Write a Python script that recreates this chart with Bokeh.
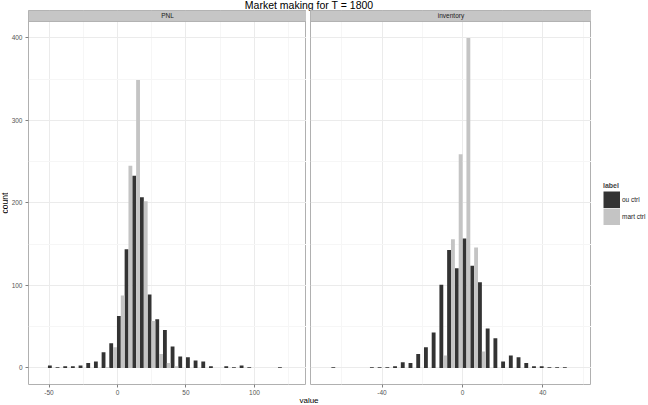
import numpy as np
from bokeh.plotting import figure
from bokeh.models import Range1d, FixedTicker, Legend, LegendItem, Div
from bokeh.layouts import column, row
from bokeh.core.properties import value
from bokeh.embed import file_html
from bokeh.resources import INLINE

# ---------------- data ----------------
TITLE = "Market making for T = 1800"
PANELS = ["PNL", "inventory"]
SERIES = ["ou ctrl", "mart ctrl"]
LEGEND_TITLE = "label"
X_LABEL = "value"
Y_LABEL = "count"

# PNL histogram (31 bins)
pnl_bin_start = -48.0
pnl_bin_width = 5.6
pnl_ou_ctrl = [3, 1, 2, 2, 3, 6, 8, 19, 30, 63, 144, 233, 207, 89, 59, 46,
               26, 14, 13, 9, 8, 2, 0, 2, 1, 3, 1, 0, 0, 0, 1]
pnl_mart_ctrl = [0, 0, 0, 0, 0, 0, 0, 1, 25, 88, 245, 349, 202, 57, 17, 6,
                 2, 0, 0, 0, 0, 0, 0, 0, 0, 0, 0, 0, 0, 0, 0]

# inventory histogram (31 bins)
inv_bin_start = -63.3
inv_bin_width = 3.84
inv_ou_ctrl = [1, 0, 0, 0, 0, 1, 1, 1, 2, 7, 6, 17, 25, 43, 101, 143,
               121, 157, 124, 104, 48, 36, 8, 15, 13, 6, 2, 2, 1, 1, 1]
inv_mart_ctrl = [0, 0, 0, 0, 0, 0, 0, 0, 0, 0, 0, 0, 0, 0, 15, 156,
                 259, 400, 146, 20, 0, 0, 0, 0, 0, 0, 0, 0, 0, 0, 0]

y_ticks = [0, 100, 200, 300, 400]
y_tick_labels = ["0", "100", "200", "300", "400"]
y_minor = [50, 150, 250, 350]
pnl_x_ticks = [-50, 0, 50, 100]
pnl_x_tick_labels = ["-50", "0", "50", "100"]
pnl_x_minor = [-25, 25, 75, 125]
inv_x_ticks = [-40, 0, 40]
inv_x_tick_labels = ["-40", "0", "40"]
inv_x_minor = [-60, -20, 20, 60]

pnl_x_range = (-65.0, 138.0)
inv_x_range = (-75.6, 64.2)
y_data_range = (-20, 420)
strip_extent = 13.3   # count units occupied by the facet strip above the panel
Y_TOP = y_data_range[1] + strip_extent

# ---------------- style ----------------
FONT = "Liberation Sans"
DARK = "#333333"
LIGHT = "#C4C4C4"
STRIP = "#C6C6C6"
BORDER = "#B0B0B0"
GRID_MAJOR = "#EBEBEB"
GRID_MINOR = "#F6F6F6"
TICK_TEXT = "#555555"

W_COUNT = 8
W_L = 20 + 278     # y-axis border + frame
GAP = 4
W_R = GAP + 281
W_LEG = 648 - W_COUNT - W_L - W_R
H_TITLE, H_PANEL, H_XLAB = 10, 387, 8
KEY = 17


def blank_fig(width, y_range):
    f = figure(width=width, height=H_PANEL, x_range=Range1d(0, 1), y_range=y_range,
               x_axis_type=None, y_axis_type=None, output_backend="svg",
               toolbar_location=None, min_border_left=0, min_border_right=0,
               min_border_top=0, min_border_bottom=0)
    f.outline_line_color = None
    f.background_fill_color = "white"
    f.border_fill_color = "white"
    return f


def make_panel(name, xr, ticks, labels, minor, start, bw, ou, mart, first):
    n = len(ou)
    centers = start + bw * np.arange(n)
    p = figure(width=W_L if first else W_R, height=H_PANEL,
               x_range=Range1d(*xr), y_range=Range1d(y_data_range[0], Y_TOP),
               output_backend="svg", toolbar_location=None,
               min_border_left=16 if first else GAP,
               min_border_right=0,
               min_border_top=0, min_border_bottom=12)
    p.outline_line_color = BORDER
    p.outline_line_width = 1
    p.background_fill_color = "white"
    p.border_fill_color = "white"

    p.vbar(x=centers - bw / 4, top=ou, bottom=0, width=bw / 2,
           fill_color=DARK, line_color=None)
    p.vbar(x=centers + bw / 4, top=mart, bottom=0, width=bw / 2,
           fill_color=LIGHT, line_color=None)

    # facet strip
    p.quad(left=[xr[0]], right=[xr[1]], bottom=[y_data_range[1]], top=[Y_TOP],
           fill_color=STRIP, line_color=BORDER, line_width=1)
    p.text(x=[(xr[0] + xr[1]) / 2], y=[(y_data_range[1] + Y_TOP) / 2], text=[name],
           text_align="center", text_baseline="middle",
           text_font=value(FONT), text_font_size="6.5px", text_color="#1A1A1A")

    xt = FixedTicker(ticks=ticks, minor_ticks=minor)
    yt = FixedTicker(ticks=y_ticks, minor_ticks=y_minor)
    p.xaxis.ticker = xt
    p.yaxis.ticker = yt
    p.xgrid.ticker = xt
    p.ygrid.ticker = yt
    for g in (p.xgrid, p.ygrid):
        g.grid_line_color = GRID_MAJOR
        g.grid_line_width = 1
        g.minor_grid_line_color = GRID_MINOR
        g.minor_grid_line_width = 1

    ax = p.xaxis[0]
    ax.major_label_overrides = dict(zip(ticks, labels))
    ax.axis_line_color = None
    ax.major_tick_out = 3
    ax.major_tick_in = 0
    ax.major_tick_line_color = "#808080"
    ax.minor_tick_line_color = None
    ax.major_label_standoff = 1
    ax.major_label_text_font = FONT
    ax.major_label_text_font_size = "6.5px"
    ax.major_label_text_color = TICK_TEXT

    ay = p.yaxis[0]
    if first:
        ay.major_label_overrides = dict(zip(y_ticks, y_tick_labels))
        ay.axis_line_color = None
        ay.major_tick_out = 3
        ay.major_tick_in = 0
        ay.major_tick_line_color = "#808080"
        ay.minor_tick_line_color = None
        ay.major_label_standoff = 2
        ay.major_label_text_font = FONT
        ay.major_label_text_font_size = "6.5px"
        ay.major_label_text_color = TICK_TEXT
    else:
        ay.visible = False
    return p


p_left = make_panel(PANELS[0], pnl_x_range, pnl_x_ticks, pnl_x_tick_labels, pnl_x_minor,
                    pnl_bin_start, pnl_bin_width, pnl_ou_ctrl, pnl_mart_ctrl, True)
p_right = make_panel(PANELS[1], inv_x_range, inv_x_ticks, inv_x_tick_labels,
                     inv_x_minor, inv_bin_start, inv_bin_width,
                     inv_ou_ctrl, inv_mart_ctrl, False)

# y-axis title, in the panel's own count scale
count_fig = blank_fig(W_COUNT, Range1d(y_data_range[0], Y_TOP))
count_fig.text(x=[0.5], y=[float(np.mean(y_ticks))], text=[Y_LABEL], angle=np.pi / 2,
               text_align="center", text_baseline="middle",
               text_font=value(FONT), text_font_size="8.5px", text_color="#000000")

# legend panel: keys are drawn by Bokeh's legend from zero-length thick lines
leg_fig = blank_fig(W_LEG, Range1d(0, 1))
k_ou = leg_fig.line(x=[0.5, 0.5], y=[0, 0], line_width=KEY, line_color=DARK, line_cap="butt")
k_mart = leg_fig.line(x=[0.5, 0.5], y=[0, 0], line_width=KEY, line_color=LIGHT, line_cap="butt")
legend = Legend(items=[LegendItem(label=SERIES[0], renderers=[k_ou]),
                       LegendItem(label=SERIES[1], renderers=[k_mart])],
                title=LEGEND_TITLE, location=(12, 159), orientation="vertical",
                margin=0, padding=0, spacing=0, glyph_width=KEY, glyph_height=KEY,
                label_standoff=2, label_height=KEY,
                label_text_font=FONT, label_text_font_size="6.5px",
                label_text_color="#1A1A1A",
                title_text_font=FONT, title_text_font_size="7px",
                title_text_font_style="bold", title_standoff=2,
                border_line_color=None, background_fill_alpha=0)
leg_fig.add_layout(legend)

title_div = Div(text=TITLE, width=2 * 309, height=H_TITLE,
                styles={"font-family": FONT, "font-size": "10.5px", "line-height": "10px",
                        "text-align": "center", "color": "#000000", "white-space": "nowrap",
                        "margin": "0", "padding": "0", "overflow": "visible"})
xlab_div = Div(text=X_LABEL, width=2 * 309, height=H_XLAB,
               styles={"font-family": FONT, "font-size": "8px", "line-height": "8px",
                       "text-align": "center", "color": "#000000", "white-space": "nowrap",
                       "margin": "0", "padding": "0", "overflow": "visible"})

layout = column(title_div, row(count_fig, p_left, p_right, leg_fig, spacing=0),
                xlab_div, spacing=0)

open("out.html", "w").write(file_html(layout, INLINE))
